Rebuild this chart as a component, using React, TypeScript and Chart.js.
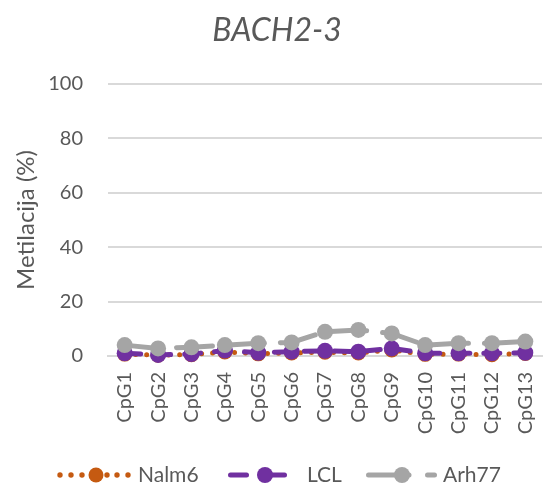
import React, { useEffect, useRef } from "react";
import { Chart, registerables } from "chart.js";

Chart.register(...registerables);

const categories = ["CpG1", "CpG2", "CpG3", "CpG4", "CpG5", "CpG6", "CpG7", "CpG8", "CpG9", "CpG10", "CpG11", "CpG12", "CpG13"];
const nalm6 = [0.7, 0.3, 0.5, 1.5, 0.8, 1.1, 1.4, 1.1, 2.2, 0.6, 0.7, 0.5, 0.9];
const lcl = [1.0, 0.4, 0.7, 2.0, 1.2, 1.6, 1.9, 1.6, 2.8, 1.0, 1.0, 1.0, 1.2];
const arh77 = [4.0, 2.8, 3.2, 4.0, 4.7, 5.0, 8.9, 9.6, 8.3, 4.0, 4.7, 4.7, 5.3];
const yTicks = [0, 20, 40, 60, 80, 100];
const seriesNames = ["Nalm6", "LCL", "Arh77"];
const chartTitle = "BACH2-3";
const yAxisTitle = "Metilacija (%)";

const ORANGE = "#C55A11";
const PURPLE = "#7030A0";
const GRAY = "#A5A5A5";
const TEXT = "#595959";
const GRID = "#D9D9D9";
const FONT = "Lato, 'Open Sans', sans-serif";

const overlay = {
  id: "overlay",
  afterDraw(chart: any) {
    const ctx = chart.ctx as CanvasRenderingContext2D;
    ctx.save();
    ctx.fillStyle = TEXT;
    // title
    ctx.font = `italic 32px ${FONT}`;
    ctx.textAlign = "center";
    ctx.textBaseline = "alphabetic";
    ctx.fillText(chartTitle, 277, 41);
    // y axis title
    ctx.save();
    ctx.translate(26, 220);
    ctx.rotate(-Math.PI / 2);
    ctx.font = `24px ${FONT}`;
    ctx.textAlign = "center";
    ctx.textBaseline = "middle";
    ctx.fillText(yAxisTitle, 0, 0);
    ctx.restore();

    // legend
    const ly = 475;
    const seg = (x1: number, x2: number, color: string) => {
      ctx.beginPath();
      ctx.strokeStyle = color;
      ctx.lineWidth = 5;
      ctx.lineCap = "round";
      ctx.moveTo(x1, ly);
      ctx.lineTo(x2, ly);
      ctx.stroke();
    };
    const dot = (x: number, r: number, color: string) => {
      ctx.beginPath();
      ctx.fillStyle = color;
      ctx.arc(x, ly, r, 0, Math.PI * 2);
      ctx.fill();
    };
    // Nalm6
    [60, 71, 82, 107, 117, 128].forEach((x) => dot(x, 2.7, ORANGE));
    dot(96, 7.5, ORANGE);
    // LCL
    seg(230.5, 246.5, PURPLE);
    seg(262, 284.5, PURPLE);
    dot(265, 8, PURPLE);
    // Arh77
    seg(368.5, 409, GRAY);
    seg(427.5, 434.5, GRAY);
    dot(402, 8, GRAY);

    ctx.fillStyle = TEXT;
    ctx.font = `21px ${FONT}`;
    ctx.textAlign = "left";
    ctx.textBaseline = "middle";
    ctx.fillText(seriesNames[0], 138, ly);
    ctx.fillText(seriesNames[1], 307, ly);
    ctx.fillText(seriesNames[2], 443, ly);
    ctx.restore();
  },
};

export default function App() {
  const ref = useRef<HTMLCanvasElement | null>(null);

  useEffect(() => {
    if (!ref.current) return;
    const chart = new Chart(ref.current, {
      type: "line",
      data: {
        labels: categories,
        datasets: [
          {
            label: seriesNames[0],
            data: nalm6,
            borderColor: ORANGE,
            backgroundColor: ORANGE,
            borderWidth: 5,
            borderDash: [0, 11],
            borderCapStyle: "round",
            pointRadius: 7.5,
            pointBorderWidth: 0,
            pointBackgroundColor: ORANGE,
            tension: 0,
            clip: false,
            order: 3,
          },
          {
            label: seriesNames[1],
            data: lcl,
            borderColor: PURPLE,
            backgroundColor: PURPLE,
            borderWidth: 5,
            borderDash: [16, 14],
            borderCapStyle: "round",
            pointRadius: 8,
            pointBorderWidth: 0,
            pointBackgroundColor: PURPLE,
            tension: 0,
            clip: false,
            order: 2,
          },
          {
            label: seriesNames[2],
            data: arh77,
            borderColor: GRAY,
            backgroundColor: GRAY,
            borderWidth: 5,
            borderDash: [36, 16],
            borderCapStyle: "round",
            pointRadius: 8,
            pointBorderWidth: 0,
            pointBackgroundColor: GRAY,
            tension: 0,
            clip: false,
            order: 1,
          },
        ] as any,
      },
      options: {
        responsive: false,
        animation: false,
        devicePixelRatio: 1,
        events: [],
        layout: { padding: { top: 84, left: 0, right: 1, bottom: 0 } },
        plugins: {
          legend: { display: false },
          title: { display: false },
          tooltip: { enabled: false },
        },
        scales: {
          x: {
            type: "category",
            offset: true,
            grid: { display: false, drawTicks: false },
            border: { display: true, color: GRID, width: 2 },
            ticks: {
              autoSkip: false,
              minRotation: 90,
              maxRotation: 90,
              padding: 16,
              color: TEXT,
              font: { size: 20, family: FONT },
            },
            afterFit: (s: any) => {
              s.height = 133;
              s.paddingLeft = 0;
              s.paddingRight = 0;
            },
          },
          y: {
            min: 0,
            max: 100,
            grid: { color: GRID, lineWidth: 2, drawTicks: false },
            border: { display: false },
            ticks: {
              padding: 25,
              color: TEXT,
              font: { size: 20, family: FONT },
            },
            afterBuildTicks: (s: any) => {
              s.ticks = yTicks.map((v) => ({ value: v }));
            },
            afterFit: (s: any) => {
              s.width = 108;
              s.paddingTop = 0;
              s.paddingBottom = 0;
            },
          },
        } as any,
      },
      plugins: [overlay],
    });
    return () => chart.destroy();
  }, []);

  return (
    <div
      style={{
        position: "fixed",
        left: 0,
        top: 0,
        width: 545,
        height: 489,
        overflow: "hidden",
        background: "#ffffff",
      }}
    >
      <canvas ref={ref} width={550} height={489} style={{ display: "block", width: 550, height: 489 }} />
    </div>
  );
}
